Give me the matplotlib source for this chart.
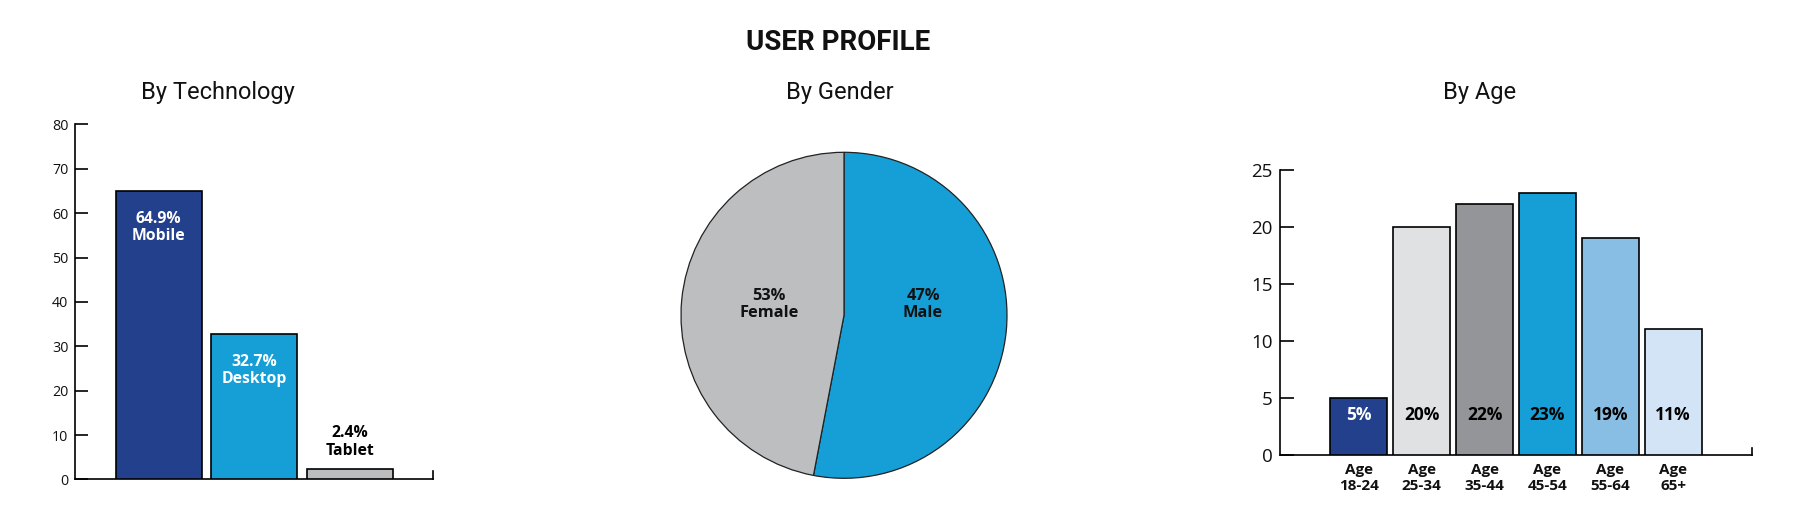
import matplotlib
matplotlib.use("Agg")
import matplotlib.pyplot as plt

# ---------------- data ----------------
tech_labels = ["Mobile", "Desktop", "Tablet"]
tech_values = [64.9, 32.7, 2.4]
tech_colors = ["#22408C", "#159FD6", "#BCBDBF"]

gender_labels = ["Male", "Female"]
gender_label_pct = [47, 53]
gender_wedges = [53, 47]          # visual slice sizes as drawn
gender_colors = ["#159FD6", "#BCBEC0"]

age_labels = ["Age\n18-24", "Age\n25-34", "Age\n35-44", "Age\n45-54", "Age\n55-64", "Age\n65+"]
age_values = [5, 20, 22, 23, 19, 11]
age_colors = ["#22408C", "#E0E1E3", "#939598", "#159FD6", "#88BEE3", "#D2E4F5"]
age_text_colors = ["white", "black", "black", "black", "black", "black"]

tech_yticks = [0, 10, 20, 30, 40, 50, 60, 70, 80]
age_yticks = [0, 5, 10, 15, 20, 25]

# ---------------- figure ----------------
W, H = 1797, 530
DPI = 100
fig = plt.figure(figsize=(W / DPI, H / DPI), dpi=DPI)
fig.patch.set_facecolor("white")

LBL = "Open Sans"
TTL = "Roboto"


def px_box(x0, y_top, x1, y_bot):
    return [x0 / W, 1 - y_bot / H, (x1 - x0) / W, (y_bot - y_top) / H]


fig.text(838 / W, 1 - 42.3 / H, "USER PROFILE", ha="center", va="center",
         fontsize=20, fontweight="bold", family=TTL, color="#111111")
fig.text(218 / W, 1 - 93 / H, "By Technology", ha="center", va="center",
         fontsize=17, family=TTL, color="#111111")
fig.text(840 / W, 1 - 92 / H, "By Gender", ha="center", va="center",
         fontsize=17, family=TTL, color="#111111")
fig.text(1480 / W, 1 - 92 / H, "By Age", ha="center", va="center",
         fontsize=17, family=TTL, color="#111111")

# ---------------- By Technology ----------------
ax1 = fig.add_axes(px_box(74.6, 124.4, 433.3, 479.4))
xs = list(range(len(tech_values)))
ax1.bar(xs, tech_values, width=0.9, color=tech_colors, edgecolor="black", linewidth=1.2, zorder=3)
ax1.set_xlim(-0.879, 2.871)
ax1.set_ylim(0, 80)
ax1.set_yticks(tech_yticks)
ax1.set_xticks([])
ax1.spines["top"].set_visible(False)
ax1.spines["right"].set_bounds(0, 1.9)
for s in ["left", "bottom", "right"]:
    ax1.spines[s].set_linewidth(1.2)
ax1.tick_params(axis="y", direction="in", length=9, width=1.2, pad=4.5,
                labelsize=10.3, labelcolor="#111111")
for lab in ax1.get_yticklabels():
    lab.set_family(LBL)
for i, (v, name) in enumerate(zip(tech_values, tech_labels)):
    txt = f"{v}%\n{name}"
    if v > 10:
        ax1.annotate(txt, (i, v), xytext=(0, -26), textcoords="offset points",
                     ha="center", va="center", color="white", fontsize=11.3,
                     fontweight="bold", family=LBL, linespacing=1.1)
    else:
        ax1.annotate(txt, (i, v), xytext=(0, 19.2), textcoords="offset points",
                     ha="center", va="center", color="black", fontsize=11.3,
                     fontweight="bold", family=LBL, linespacing=1.1)

# ---------------- By Gender ----------------
R = 163
CX, CY = 844, 315.3
ax2 = fig.add_axes(px_box(CX - R, CY - R, CX + R, CY + R))
ax2.pie(gender_wedges, colors=gender_colors, startangle=90, counterclock=False,
        radius=1, wedgeprops=dict(edgecolor="#222222", linewidth=0.9))
ax2.set_xlim(-1, 1)
ax2.set_ylim(-1, 1)
ax2.axis("off")
label_pos = [(0.485, 0.066), (-0.46, 0.066)]
for (x, y), name, pct in zip(label_pos, gender_labels, gender_label_pct):
    ax2.text(x, y, f"{pct}%\n{name}", ha="center", va="center", fontsize=11.8,
             fontweight="bold", family=LBL, color="#111111", linespacing=1.1)

# ---------------- By Age ----------------
ax3 = fig.add_axes(px_box(1280.4, 170, 1751.6, 454.5))
xa = list(range(len(age_values)))
ax3.bar(xa, age_values, width=0.907, color=age_colors, edgecolor="black", linewidth=1.2, zorder=3)
ax3.set_xlim(-1.248, 6.25)
ax3.set_ylim(0, 25)
ax3.set_yticks(age_yticks)
ax3.set_xticks(xa)
ax3.set_xticklabels(age_labels)
ax3.spines["top"].set_visible(False)
ax3.spines["right"].set_bounds(0, 0.6)
for s in ["left", "bottom", "right"]:
    ax3.spines[s].set_linewidth(1.2)
ax3.tick_params(axis="y", direction="in", length=10, width=1.2, pad=5.5,
                labelsize=13.5, labelcolor="#111111")
ax3.tick_params(axis="x", length=0, pad=6, labelsize=11, labelcolor="#111111")
for lab in ax3.get_yticklabels():
    lab.set_family(LBL)
for lab in ax3.get_xticklabels():
    lab.set_family(LBL)
    lab.set_fontweight("bold")
    lab.set_linespacing(1.2)
for i, (v, c) in enumerate(zip(age_values, age_text_colors)):
    ax3.text(i, 3.48, f"{v}%", ha="center", va="center", color=c,
             fontsize=12.5, fontweight="bold", family=LBL)

fig.savefig("out.png", dpi=DPI, facecolor="white")
